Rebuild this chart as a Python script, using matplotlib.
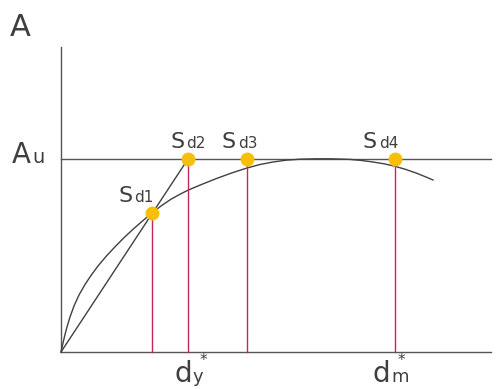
import matplotlib
matplotlib.use("Agg")
import matplotlib.pyplot as plt

# Capacity curve (displacement, force)
curve_x = [0, 2, 4, 6, 9, 13, 18, 24, 30, 37, 45, 54, 63, 72, 81, 91,
           100, 110, 120, 127, 140, 155, 170, 186, 199, 212, 225, 239, 255,
           270, 289, 300, 312, 323, 333, 345, 355, 365, 372]
curve_y = [0, 9, 17.5, 25, 35, 46, 57, 67.5, 76.5, 86, 95.5, 105.2,
           114.3, 122.7, 130.6, 139,
           146, 152.8, 158.3, 161.8, 167.3, 173.3, 178.8, 184, 187.5, 190, 191.8, 192.8, 193.2,
           193.2, 192.6, 191.6, 190, 188.2, 186, 182.5, 179, 175, 172]

Au = 193
x_end = 430
y_top = 305

# Performance points
pt_names = ["1", "2", "3", "4"]
pt_x = [91, 127, 186, 334]
pt_y = [139, 193, 193, 193]

# Secant line from origin through Sd1 to Sd2
sec_x = [0, 127]
sec_y = [0, 193]

gray = "#555555"
red = "#c2285a"
gold = "#f7bf0a"
txt = "#3f3f3f"

fig = plt.figure(figsize=(5.03, 3.89), dpi=100)
ax = fig.add_axes([0, 0, 1, 1])
ax.set_xlim(-61, 442)
ax.set_ylim(-37, 352)
ax.axis("off")

# axes
ax.plot([0, 0], [0, y_top], color=gray, lw=1.0)
ax.plot([0, x_end], [0, 0], color=gray, lw=1.0)
ax.plot([0, x_end], [Au, Au], color=gray, lw=1.0)

# curve and secant
ax.plot(curve_x, curve_y, color="#404040", lw=1.0, solid_joinstyle="round")
ax.plot(sec_x, sec_y, color="#404040", lw=1.0)

# vertical red lines
for x, y in zip(pt_x, pt_y):
    ax.plot([x, x], [0, y], color=red, lw=1.0, zorder=3)

ax.plot(pt_x, pt_y, "o", color=gold, markersize=9, zorder=5)

fam = ["DejaVu Sans"]
# Labels
ax.text(-51, 316, "A", fontsize=22, color=txt, family=fam, va="baseline", ha="left")
ax.text(-49, 189, "A", fontsize=20, color=txt, family=fam, va="baseline", ha="left")
ax.text(-29, 189, "u", fontsize=14, color=txt, family=fam, va="baseline", ha="left")

sd_pos = [(57, 150), (109, 204), (161, 204), (302, 204)]
for (sx, sy), n in zip(sd_pos, pt_names):
    ax.text(sx, sy, "S", fontsize=16, color=txt, family=fam, va="baseline", ha="left")
    ax.text(sx + 16, sy, "d" + n, fontsize=11, color=txt, family=fam, va="baseline", ha="left")

# d*y and d*m
ax.text(114, -30, "d", fontsize=20, color=txt, family=fam, va="baseline", ha="left")
ax.text(132, -30, "y", fontsize=13, color=txt, family=fam, va="baseline", ha="left")
ax.text(142, -9, "*", fontsize=11, color=txt, family=fam, va="center", ha="center")

ax.text(312, -30, "d", fontsize=20, color=txt, family=fam, va="baseline", ha="left")
ax.text(330, -30, "m", fontsize=13, color=txt, family=fam, va="baseline", ha="left")
ax.text(340, -9, "*", fontsize=11, color=txt, family=fam, va="center", ha="center")

fig.savefig("out.png", dpi=100, facecolor="white")
